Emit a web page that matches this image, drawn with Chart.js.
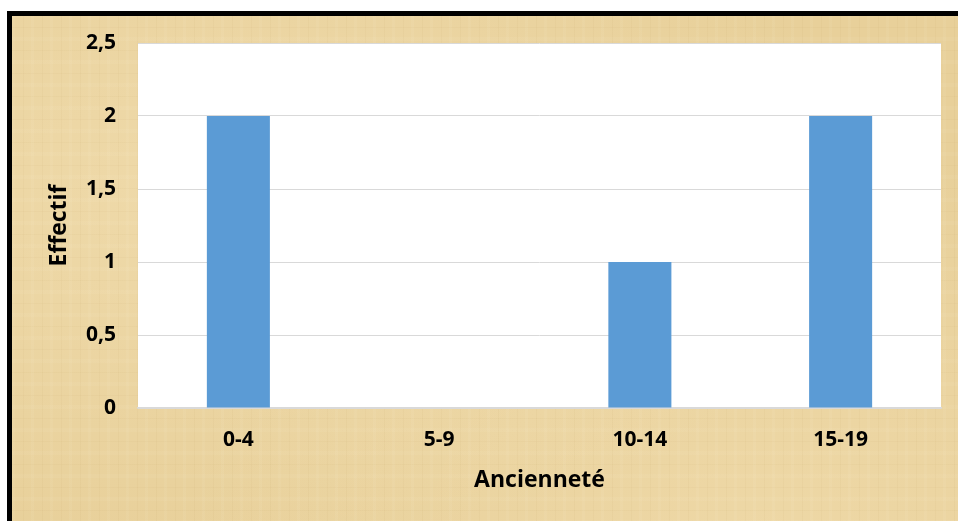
<!DOCTYPE html>
<html>
<head>
<meta charset="utf-8">
<script src="https://cdn.jsdelivr.net/npm/chart.js@4/dist/chart.umd.min.js"></script>
<style>
  html, body { margin: 0; padding: 0; background: #fff; overflow: hidden; }
  #frame {
    position: absolute; left: 7px; top: 11px; width: 1000px; height: 600px;
    border-left: 5px solid #000; border-top: 5px solid #000;
    background-color: #e8d09a;
    background-image:
      repeating-linear-gradient(90deg, rgba(255,250,230,0.06) 0 3px, rgba(0,0,0,0) 3px 11px, rgba(150,110,40,0.04) 11px 12px, rgba(0,0,0,0) 12px 19px),
      repeating-linear-gradient(0deg, rgba(255,250,230,0.05) 0 4px, rgba(0,0,0,0) 4px 13px, rgba(150,110,40,0.035) 13px 14px, rgba(0,0,0,0) 14px 23px),
      radial-gradient(ellipse at 20% 30%, rgba(255,240,205,0.30), rgba(0,0,0,0) 60%),
      radial-gradient(ellipse at 75% 85%, rgba(255,238,200,0.25), rgba(0,0,0,0) 55%);
  }
  #wrap { position: absolute; left: 0; top: 0; width: 958px; height: 521px; }
</style>
</head>
<body>
<div id="frame"></div>
<div id="wrap"><canvas id="chart" width="958" height="521"></canvas></div>
<script>
// data
const categories = ['0-4', '5-9', '10-14', '15-19'];
const effectif = [2, 0, 1, 2];
const yTicks = [0, 0.5, 1, 1.5, 2, 2.5];

// white plot area behind the bars
const plotBackground = {
    id: 'plotBackground',
    beforeDraw(chart) {
        const {ctx, chartArea} = chart;
        ctx.save();
        ctx.fillStyle = '#ffffff';
        ctx.fillRect(chartArea.left, chartArea.top, chartArea.right - chartArea.left, chartArea.bottom - chartArea.top);
        ctx.restore();
    }
};

const ctx = document.getElementById('chart').getContext('2d');
new Chart(ctx, {
    type: 'bar',
    data: {
        labels: categories,
        datasets: [{
            label: 'Effectif',
            data: effectif,
            backgroundColor: '#5b9bd5',
            categoryPercentage: 1,
            barPercentage: 0.314
        }]
    },
    options: {
        responsive: false,
        animation: false,
        layout: { padding: { top: 43, right: 17, bottom: 0, left: 0 } },
        plugins: { legend: { display: false }, tooltip: { enabled: false } },
        scales: {
            x: {
                grid: { display: false, drawTicks: false },
                border: { display: true, color: '#d9d9d9', width: 1.5 },
                ticks: { color: '#000', padding: 19, font: { family: 'Open Sans', size: 21, weight: 'bold' } },
                title: {
                    display: true, text: 'Ancienneté', color: '#000',
                    padding: { top: 0, bottom: 27 },
                    font: { family: 'Open Sans', size: 23, weight: 'bold' }
                },
                afterFit(scale) { scale.height = 113; }
            },
            y: {
                min: 0,
                max: 2.5,
                afterBuildTicks(scale) { scale.ticks = yTicks.map(v => ({ value: v })); },
                grid: { color: '#d9d9d9', lineWidth: 1, drawTicks: false },
                border: { display: false },
                ticks: {
                    color: '#000', padding: 22,
                    font: { family: 'Open Sans', size: 21, weight: 'bold' },
                    callback: v => String(v).replace('.', ',')
                },
                title: {
                    display: true, text: 'Effectif', color: '#000',
                    padding: { top: 46, bottom: 0 },
                    font: { family: 'Open Sans', size: 23, weight: 'bold' }
                },
                afterFit(scale) { scale.width = 138; }
            }
        }
    },
    plugins: [plotBackground]
});
</script>
</body>
</html>
